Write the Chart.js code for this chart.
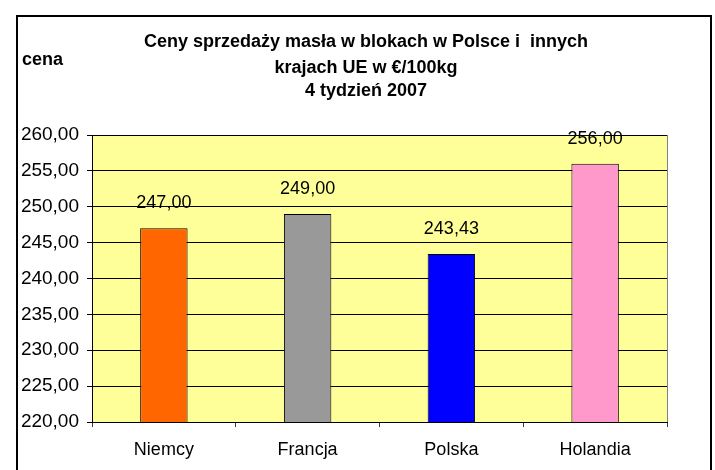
<!DOCTYPE html>
<html>
<head>
<meta charset="utf-8">
<script src="https://cdn.jsdelivr.net/npm/chart.js@4.4.1/dist/chart.umd.min.js"></script>
<style>
  body { margin: 0; background: #fff; }
  canvas { display: block; }
</style>
</head>
<body>
<canvas id="bars" width="715" height="470"></canvas>
<script>
const countries = ['Niemcy', 'Francja', 'Polska', 'Holandia'];
const prices = [247.00, 249.00, 243.43, 256.00];
const barColors = ['#FF6600', '#999999', '#0000FF', '#FF99CC'];
const titleLines = ['Ceny sprzedaży masła w blokach w Polsce i  innych', 'krajach UE w €/100kg', '4 tydzień 2007'];
const yMin = 220, yMax = 260, yStep = 5;

const fmt = v => v.toFixed(2).replace('.', ',');
const FONT = '"Liberation Sans", Arial, sans-serif';

const decor = {
  id: 'decor',
  beforeDraw(chart) {
    const { ctx, chartArea: a } = chart;
    ctx.save();
    // outer frame (bottom edge runs off the picture)
    ctx.strokeStyle = '#000000';
    ctx.lineWidth = 2;
    ctx.beginPath();
    ctx.moveTo(17, 480);
    ctx.lineTo(17, 16);
    ctx.lineTo(711, 16);
    ctx.lineTo(711, 480);
    ctx.stroke();
    ctx.fillStyle = '#FFFF99';
    ctx.fillRect(a.left, a.top, a.right - a.left, a.bottom - a.top);
    // gray top/right border of plot
    ctx.fillStyle = '#808080';
    ctx.fillRect(a.left, a.top, a.right - a.left + 1, 1);
    ctx.fillRect(Math.round(a.right), a.top, 1, a.bottom - a.top);
    ctx.restore();
  },
  afterDraw(chart) {
    const { ctx } = chart;
    ctx.save();
    ctx.fillStyle = '#000';
    // title
    ctx.textAlign = 'center';
    ctx.textBaseline = 'middle';
    ctx.font = 'bold 18px ' + FONT;
    const ys = [42, 68, 91];
    titleLines.forEach((t, i) => ctx.fillText(t, 366, ys[i]));
    ctx.textAlign = 'left';
    ctx.fillText('cena', 22, 60);
    // value labels
    ctx.font = '18px ' + FONT;
    ctx.textAlign = 'center';
    chart.getDatasetMeta(0).data.forEach((bar, i) => {
      ctx.fillText(fmt(prices[i]), bar.x, bar.y - 25);
    });
    ctx.restore();
  }
};

new Chart(document.getElementById('bars'), {
  type: 'bar',
  data: {
    labels: countries,
    datasets: [{
      data: prices,
      backgroundColor: barColors,
      borderColor: '#000',
      borderWidth: 1,
      borderSkipped: false,
      categoryPercentage: 1,
      barPercentage: 0.33
    }]
  },
  options: {
    responsive: false,
    animation: false,
    layout: { padding: { top: 135, right: 48, left: 0, bottom: 0 } },
    plugins: { legend: { display: false }, tooltip: { enabled: false }, title: { display: false } },
    scales: {
      x: {
        afterFit(s) { s.height = 48; },
        grid: { drawOnChartArea: false, drawTicks: true, tickLength: 5, color: '#404040' },
        border: { color: '#000' },
        ticks: { color: '#000', font: { family: FONT, size: 18 }, padding: 12 }
      },
      y: {
        min: yMin, max: yMax,
        afterFit(s) { s.width = 92; },
        grid: { color: '#000', tickLength: 5 },
        border: { color: '#000' },
        ticks: { stepSize: yStep, color: '#000', font: { family: FONT, size: 19 }, padding: 8, callback: v => fmt(v) }
      }
    }
  },
  plugins: [decor]
});
</script>
</body>
</html>
